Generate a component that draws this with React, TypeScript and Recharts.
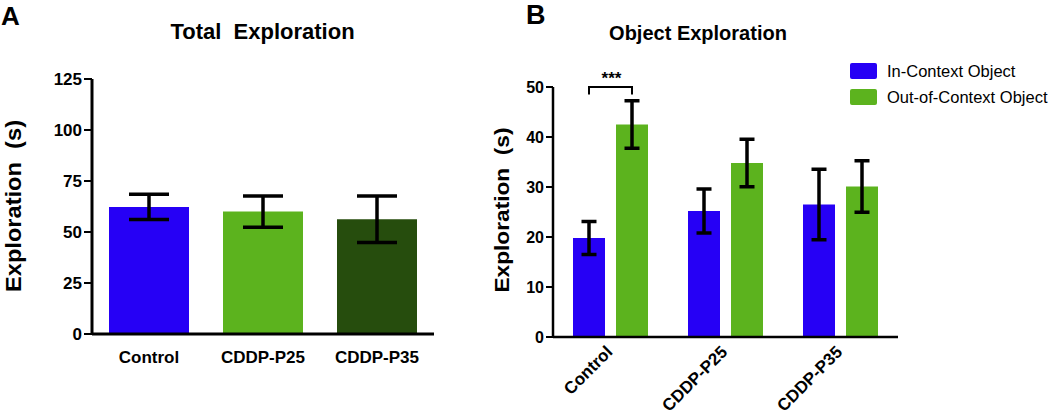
import React from 'react';
import { BarChart, Bar, XAxis, YAxis, ErrorBar, Cell, Legend } from 'recharts';

// ---------- Panel A data ----------
const groupsA = ['Control', 'CDDP-P25', 'CDDP-P35'];
const totalMean = [62.3, 60.0, 56.2];
const totalSem = [6.2, 7.7, 11.4];
const colorsA = ['#2600F5', '#5CB31E', '#264D0D'];
const ticksA = [0, 25, 50, 75, 100, 125];

// ---------- Panel B data ----------
const groupsB = ['Control', 'CDDP-P25', 'CDDP-P35'];
const seriesNames = ['In-Context Object', 'Out-of-Context Object'];
const inContextMean = [19.8, 25.2, 26.5];
const inContextSem = [3.3, 4.4, 7.05];
const outContextMean = [42.5, 34.8, 30.1];
const outContextSem = [4.75, 4.75, 5.15];
const ticksB = [0, 10, 20, 30, 40, 50];
const sigLevel = 50;
const sigLabel = '***';

const BLUE = '#2600F5';
const GREEN = '#5CB31E';
const FONT = '"Liberation Sans", Arial, Helvetica, sans-serif';

const dataA = groupsA.map((g, i) => ({ name: g, mean: totalMean[i], sem: totalSem[i] }));
const dataB = groupsB.map((g, i) => ({
  name: g,
  inMean: inContextMean[i],
  inSem: inContextSem[i],
  outMean: outContextMean[i],
  outSem: outContextSem[i],
}));

const BAR_GAP_B = 11;

const TickA = (props: any) => {
  const { x, y, payload } = props;
  return (
    <text x={x} y={y + 29} textAnchor="middle" fill="#000" fontFamily={FONT} fontWeight="bold" fontSize={17}>
      {payload.value}
    </text>
  );
};

const TickB = (props: any) => {
  const { x, y, payload } = props;
  const tx = x + 3;
  const ty = y + 16;
  return (
    <text
      x={tx}
      y={ty}
      transform={`rotate(-45 ${tx} ${ty})`}
      textAnchor="end"
      fill="#000"
      fontFamily={FONT}
      fontWeight="bold"
      fontSize={17}
    >
      {payload.value}
    </text>
  );
};

const SigBracket = (props: any) => {
  const { x, y, width, height, value, index } = props;
  if (index !== 0 || !value) return null;
  const ppu = height / value;
  const base = y + height;
  const yb = base - sigLevel * ppu;
  const cxGreen = x + width / 2;
  const cxBlue = cxGreen - (width + BAR_GAP_B);
  const leg = 1.5 * ppu;
  return (
    <g>
      <path
        d={`M${cxBlue},${yb + leg} L${cxBlue},${yb} L${cxGreen},${yb} L${cxGreen},${yb + leg}`}
        stroke="#000"
        strokeWidth={2}
        fill="none"
      />
      <text
        x={(cxBlue + cxGreen) / 2 + 1}
        y={yb - 3}
        textAnchor="middle"
        fontFamily={FONT}
        fontWeight="bold"
        fontSize={17}
        fill="#000"
      >
        {sigLabel}
      </text>
    </g>
  );
};

const renderLegend = (props: any) => {
  const payload = props.payload || [];
  return (
    <svg width={200} height={56} style={{ overflow: 'visible' }}>
      {payload.map((e: any, i: number) => (
        <g key={i}>
          <rect x={0} y={8 + 26 * i} width={27} height={16} rx={2} fill={e.color} />
          <text
            x={37}
            y={16 + 26 * i}
            dy="0.36em"
            fontFamily={FONT}
            fontSize={16.5}
            fill="#000"
          >
            {e.value}
          </text>
        </g>
      ))}
    </svg>
  );
};

export default function App() {
  return (
    <div style={{ position: 'absolute', left: 0, top: 0, width: 1050, height: 414, background: '#fff', overflow: 'hidden' }}>
      {/* Panel A */}
      <div style={{ position: 'absolute', left: 0, top: 0 }}>
        <BarChart width={470} height={414} data={dataA} margin={{ top: 79, right: 36, bottom: 0, left: 32 }}>
          <XAxis
            dataKey="name"
            height={80}
            axisLine={{ stroke: '#000', strokeWidth: 3 }}
            tickLine={false}
            tickSize={0}
            tickMargin={0}
            tick={<TickA />}
            interval={0}
          />
          <YAxis
            width={60}
            domain={[0, 125]}
            ticks={ticksA}
            interval={0}
            axisLine={{ stroke: '#000', strokeWidth: 3 }}
            tickLine={{ stroke: '#000', strokeWidth: 2 }}
            tickSize={8}
            tickMargin={2}
            tick={{ fill: '#000', fontSize: 17, fontWeight: 'bold', fontFamily: FONT }}
          />
          <Bar dataKey="mean" barSize={80} isAnimationActive={false}>
            {dataA.map((d, i) => (
              <Cell key={d.name} fill={colorsA[i]} />
            ))}
            <ErrorBar dataKey="sem" width={20} stroke="#000" strokeWidth={3.5} direction="y" />
          </Bar>
        </BarChart>
      </div>

      {/* Panel B */}
      <div style={{ position: 'absolute', left: 480, top: 0 }}>
        <BarChart
          width={570}
          height={414}
          data={dataB}
          barGap={BAR_GAP_B}
          margin={{ top: 87, right: 152, bottom: 0, left: 13 }}
        >
          <XAxis
            dataKey="name"
            height={77}
            axisLine={{ stroke: '#000', strokeWidth: 2.5 }}
            tickLine={false}
            tickSize={0}
            tickMargin={0}
            tick={<TickB />}
            interval={0}
          />
          <YAxis
            width={60}
            domain={[0, 50]}
            ticks={ticksB}
            interval={0}
            axisLine={{ stroke: '#000', strokeWidth: 2.5 }}
            tickLine={{ stroke: '#000', strokeWidth: 2 }}
            tickSize={7}
            tickMargin={2}
            tick={{ fill: '#000', fontSize: 16, fontWeight: 'bold', fontFamily: FONT }}
          />
          <Legend
            layout="vertical"
            align="center"
            verticalAlign="middle"
            content={renderLegend}
            wrapperStyle={{ left: 370, top: 55, width: 200, height: 56 }}
          />
          <Bar dataKey="inMean" name={seriesNames[0]} fill={BLUE} barSize={32} isAnimationActive={false}>
            <ErrorBar dataKey="inSem" width={7.5} stroke="#000" strokeWidth={3.5} direction="y" />
          </Bar>
          <Bar
            dataKey="outMean"
            name={seriesNames[1]}
            fill={GREEN}
            barSize={32}
            isAnimationActive={false}
            label={(p: any) => <SigBracket {...p} />}
          >
            <ErrorBar dataKey="outSem" width={7.5} stroke="#000" strokeWidth={3.5} direction="y" />
          </Bar>
        </BarChart>
      </div>

      {/* Titles and axis labels */}
      <svg
        width={1050}
        height={414}
        style={{ position: 'absolute', left: 0, top: 0, pointerEvents: 'none' }}
      >
        <text x={1} y={25} fontFamily={FONT} fontWeight="bold" fontSize={26} fill="#000">A</text>
        <text x={526} y={24} fontFamily={FONT} fontWeight="bold" fontSize={27} fill="#000">B</text>
        <text
          x={262.5}
          y={39}
          textAnchor="middle"
          fontFamily={FONT}
          fontWeight="bold"
          fontSize={22}
          fill="#000"
          style={{ whiteSpace: 'pre' }}
        >
          {'Total  Exploration'}
        </text>
        <text x={698} y={40} textAnchor="middle" fontFamily={FONT} fontWeight="bold" fontSize={20} fill="#000">
          Object Exploration
        </text>
        <text
          x={0}
          y={0}
          transform="translate(21 206) rotate(-90)"
          textAnchor="middle"
          fontFamily={FONT}
          fontWeight="bold"
          fontSize={22}
          fill="#000"
          textLength={172}
          lengthAdjust="spacingAndGlyphs"
          style={{ whiteSpace: 'pre' }}
        >
          {'Exploration  (s)'}
        </text>
        <text
          x={0}
          y={0}
          transform="translate(509 210) rotate(-90)"
          textAnchor="middle"
          fontFamily={FONT}
          fontWeight="bold"
          fontSize={20}
          fill="#000"
          textLength={165}
          lengthAdjust="spacingAndGlyphs"
          style={{ whiteSpace: 'pre' }}
        >
          {'Exploration  (s)'}
        </text>
      </svg>
    </div>
  );
}
